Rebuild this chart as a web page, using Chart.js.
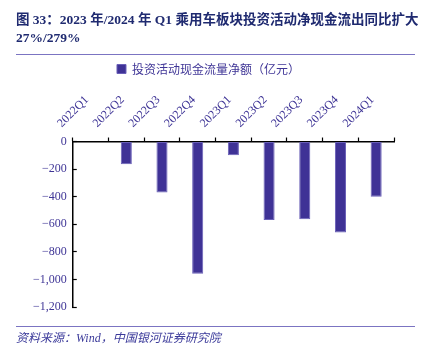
<!DOCTYPE html>
<html>
<head>
<meta charset="utf-8">
<script src="https://cdn.jsdelivr.net/npm/chart.js@4.4.1/dist/chart.umd.min.js"></script>
<style>
  html, body { margin: 0; padding: 0; background: #fff; }
  #wrap { position: relative; width: 428px; height: 344px; overflow: hidden; }
  #title {
    position: absolute; left: 16px; top: 11px; width: 405px;
    font-family: "Liberation Serif", "Noto Sans CJK SC", serif;
    font-weight: bold; font-size: 13.5px; line-height: 18px; color: #1f2a70;
  }
  #topline { position: absolute; left: 16px; top: 54px; width: 399px; height: 1px; background: #7b74c2; }
  #botline { position: absolute; left: 16px; top: 326px; width: 399px; height: 1px; background: #7b74c2; }
  #source {
    position: absolute; left: 16px; top: 328px;
    font-family: "Liberation Serif", "Noto Sans CJK SC", serif;
    font-style: italic; font-size: 12px; color: #3b3a9a;
  }
  #chartbox { position: absolute; left: 0; top: 0; width: 428px; height: 344px; }
</style>
</head>
<body>
<div id="wrap">
  <div id="chartbox"><canvas id="cashChart"></canvas></div>
  <div id="title">图 33：2023 年/2024 年 Q1 乘用车板块投资活动净现金流出同比扩大 27%/279%</div>
  <div id="topline"></div>
  <div id="botline"></div>
  <div id="source">资料来源：Wind，中国银河证券研究院</div>
</div>
<script>
const quarters = ['2022Q1','2022Q2','2022Q3','2022Q4','2023Q1','2023Q2','2023Q3','2023Q4','2024Q1'];
const netInvestCash = [0, -165, -370, -958, -100, -570, -563, -660, -400];
const seriesName = '投资活动现金流量净额（亿元）';

const purple = '#3f3296';
const txt = '#3f3596';

// a bit of room between the legend and the rotated labels
const legendGap = {
  id: 'legendGap',
  beforeInit(chart) {
    const origFit = chart.legend.fit;
    chart.legend.fit = function() {
      origFit.bind(chart.legend)();
      this.height += 1;
    };
  }
};

const ctx = document.getElementById('cashChart').getContext('2d');
new Chart(ctx, {
  type: 'bar',
  data: {
    labels: quarters,
    datasets: [{
      label: seriesName,
      data: netInvestCash,
      backgroundColor: purple,
      borderColor: '#6a60b8',
      borderWidth: 1,
      borderSkipped: false,
      categoryPercentage: 1,
      barPercentage: 0.31
    }]
  },
  plugins: [legendGap],
  options: {
    responsive: true,
    maintainAspectRatio: false,
    animation: false,
    layout: { padding: { top: 55, right: 34, bottom: 37, left: 23 } },
    plugins: {
      legend: {
        position: 'top',
        labels: {
          boxWidth: 9, boxHeight: 9,
          color: txt,
          font: { family: '"Noto Sans CJK SC"', size: 12 },
          padding: 8
        }
      },
      tooltip: { enabled: false }
    },
    scales: {
      x: {
        position: 'top',
        grid: { drawOnChartArea: false, offset: true, color: '#000', tickLength: 4, tickWidth: 1.2 },
        border: { color: '#000', width: 1.5 },
        ticks: {
          color: txt,
          font: { family: '"Liberation Serif"', size: 12 },
          minRotation: 45, maxRotation: 45,
          labelOffset: -21,
          padding: 7
        }
      },
      y: {
        min: -1200, max: 0,
        grid: { drawOnChartArea: false, color: '#000', tickLength: -4, tickWidth: 1.2 },
        border: { color: '#000', width: 1.5 },
        ticks: {
          stepSize: 200,
          color: txt,
          font: { family: '"Liberation Serif"', size: 12 },
          padding: 10,
          callback: function(v) {
            if (v === 0) return '0';
            return '\u2212' + Math.abs(v).toLocaleString('en-US');
          }
        }
      }
    }
  }
});
</script>
</body>
</html>
